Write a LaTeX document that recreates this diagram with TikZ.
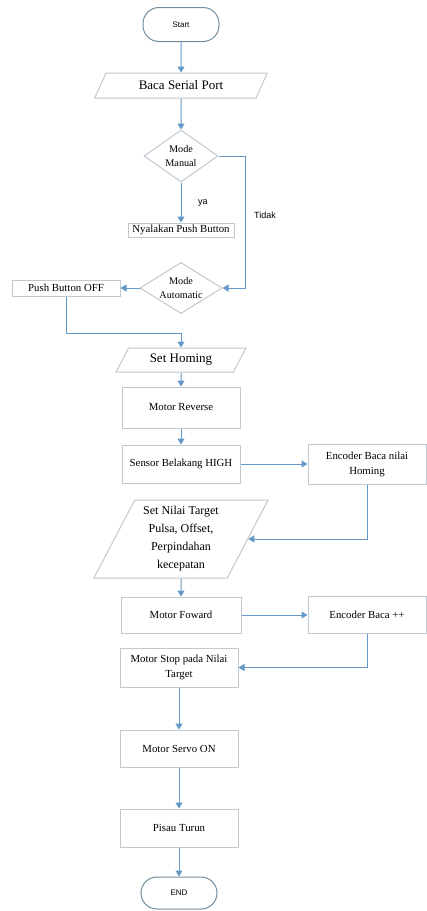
\documentclass[tikz,border=0pt]{standalone}
\usepackage{fontspec}
\setmainfont{Liberation Serif}
\newfontfamily\labelfont{Liberation Sans}
\usetikzlibrary{shapes.geometric}
\usetikzlibrary{arrows.meta}
\definecolor{flowblue}{RGB}{100,152,198}
\definecolor{boxgray}{RGB}{192,200,208}
\definecolor{termgray}{RGB}{112,140,156}
\tikzset{
terminal/.style={ % Start and END
draw=termgray, line width=0.5pt, rounded corners=8pt,
minimum width=38pt, minimum height=17pt,
font=\labelfont\fontsize{4}{5}\selectfont},
process/.style={ % plain steps
draw=boxgray, line width=0.5pt, minimum width=59pt, inner sep=1pt,
align=center, font=\fontsize{5.4}{7.5}\selectfont},
io/.style={ % input and output
trapezium, trapezium left angle=63, trapezium right angle=117,
trapezium stretches=true, draw=boxgray, line width=0.5pt,
inner sep=1pt, align=center},
decision/.style={ % questions
diamond, draw=boxgray, line width=0.5pt, inner sep=0pt, aspect=1.6,
align=center, font=\fontsize{5.1}{7.4}\selectfont},
flow/.style={ % connectors
draw=flowblue, line width=0.5pt, -{Triangle[width=3.5pt,length=3pt]}},
branch/.style={font=\labelfont\fontsize{4.5}{5}\selectfont}
}

\begin{document}
\begin{tikzpicture}[x=0.5pt,y=-0.5pt]
\useasboundingbox (0,0) rectangle (427,911);
\node[terminal] (start) at (181,24.5) {Start};
\node[io, minimum width=86.5pt, minimum height=12.5pt, font=\fontsize{6.5}{8}\selectfont] (baca) at (181,85.5) {Baca Serial Port};
\node[decision, minimum width=37pt, minimum height=26pt] (manual) at (181,156) {Mode\\Manual};
\node[process, minimum width=53pt, minimum height=7pt] (nyala) at (181,230) {Nyalakan Push Button};
\node[decision, minimum width=41pt, minimum height=25.5pt] (auto) at (181,288) {Mode\\Automatic};
\node[process, minimum width=54pt, minimum height=8pt] (pboff) at (66,288) {Push Button OFF};
\node[io, minimum width=65pt, minimum height=12pt, font=\fontsize{6.5}{8}\selectfont] (sethome) at (181,360) {Set Homing};
\node[process, minimum height=20.5pt] (reverse) at (181,407.5) {Motor Reverse};
\node[process, minimum height=19pt] (sensor) at (181,464) {Sensor Belakang HIGH};
\node[process, minimum height=20pt] (enchome) at (367,464) {Encoder Baca nilai\\Homing};
\node[io, minimum width=87.5pt, minimum height=39pt, font=\fontsize{6}{9}\selectfont] (setnilai) at (181,539) {Set Nilai Target\\Pulsa, Offset,\\Perpindahan\\kecepatan};
\node[process, minimum height=18pt, minimum width=60pt] (forward) at (181,615) {Motor Foward};
\node[process, minimum height=18.5pt] (encinc) at (367,615) {Encoder Baca ++};
\node[process, minimum height=19.5pt] (stop) at (179,667.5) {Motor Stop pada Nilai\\Target};
\node[process, minimum height=18.5pt] (servo) at (179,748.5) {Motor Servo ON};
\node[process, minimum height=19pt] (pisau) at (179,828) {Pisau Turun};
\node[terminal, minimum height=16pt] (end) at (179,893) {END};
\node[branch] (ya) at (203,203) {ya};
\node[branch] (tidak) at (265,215) {Tidak};

\draw[flow] (start) -- (baca);
\draw[flow] (baca) -- (manual);
\draw[flow] (manual) -- (nyala);
\draw[flow] (manual.east) -- ++(27,0) |- (auto.east);
\draw[flow] (auto.west) -- (pboff.east);
\draw[flow] (pboff.south) -- ++(0,37) -| (sethome.north);
\draw[flow] (sethome) -- (reverse);
\draw[flow] (reverse) -- (sensor);
\draw[flow] (sensor) -- (enchome);
\draw[flow] (enchome.south) |- (setnilai.east);
\draw[flow] (setnilai) -- (forward);
\draw[flow] (forward) -- (encinc);
\draw[flow] (encinc.south) |- (stop.east);
\draw[flow] (stop) -- (servo);
\draw[flow] (servo) -- (pisau);
\draw[flow] (pisau) -- (end);
\end{tikzpicture}
\end{document}
